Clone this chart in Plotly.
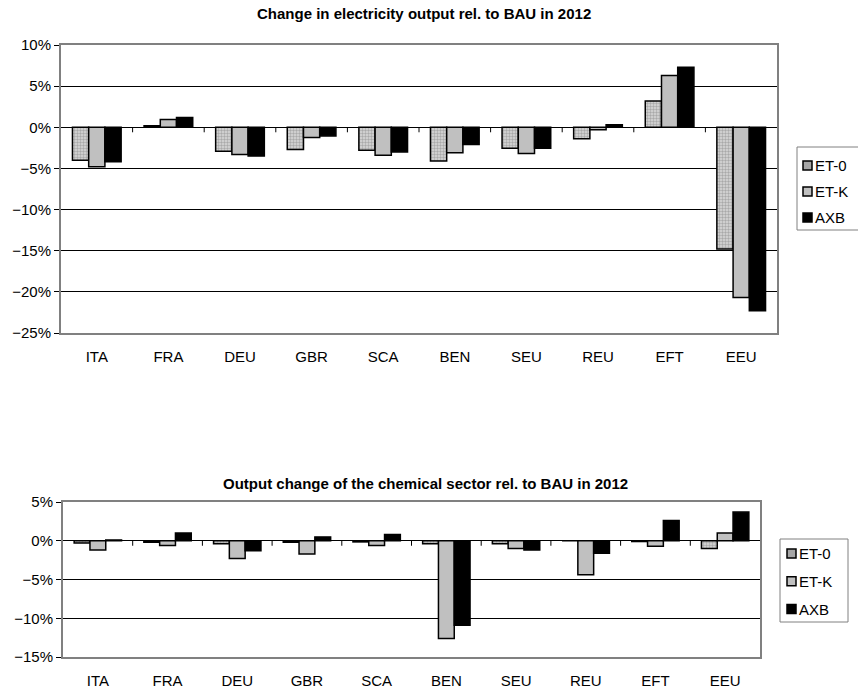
import plotly.graph_objects as go

categories = ["ITA", "FRA", "DEU", "GBR", "SCA", "BEN", "SEU", "REU", "EFT", "EEU"]
series_names = ["ET-0", "ET-K", "AXB"]

# Change in electricity output rel. to BAU in 2012 (%)
elec_et0 = [-4.0, 0.2, -2.9, -2.7, -2.8, -4.1, -2.55, -1.4, 3.2, -14.8]
elec_etk = [-4.8, 0.95, -3.3, -1.25, -3.4, -3.1, -3.2, -0.3, 6.3, -20.7]
elec_axb = [-4.2, 1.2, -3.5, -1.05, -3.0, -2.1, -2.55, 0.3, 7.3, -22.3]

# Output change of the chemical sector rel. to BAU in 2012 (%)
chem_et0 = [-0.3, -0.2, -0.4, -0.2, -0.15, -0.4, -0.4, 0.0, -0.1, -1.0]
chem_etk = [-1.2, -0.6, -2.3, -1.7, -0.6, -12.6, -1.0, -4.4, -0.7, 1.0]
chem_axb = [0.1, 1.0, -1.3, 0.5, 0.8, -10.9, -1.2, -1.6, 2.6, 3.7]

title_top = "Change in electricity output rel. to BAU in 2012"
title_bottom = "Output change of the chemical sector rel. to BAU in 2012"

W, H = 858, 691
FONT = "Liberation Sans, Arial, sans-serif"


def px_x(v):
    return v / W


def px_y(v):
    return 1 - v / H


styles = [
    dict(color="#d9d9d9", pattern=dict(shape=".", fgcolor="#7a7a7a", bgcolor="#d9d9d9",
                                        size=3, solidity=0.5)),
    dict(color="#c0c0c0"),
    dict(color="#000000"),
]
legend_swatch_colors = ["#a6a6a6", "#c0c0c0", "#000000"]

fig = go.Figure()

for (vals_list, xa, ya) in [
    ([elec_et0, elec_etk, elec_axb], "x", "y"),
    ([chem_et0, chem_etk, chem_axb], "x2", "y2"),
]:
    for i, (name, vals) in enumerate(zip(series_names, vals_list)):
        fig.add_trace(go.Bar(
            x=categories, y=vals, name=name, xaxis=xa, yaxis=ya,
            showlegend=False,
            marker=dict(line=dict(color="#000000", width=1.5), **styles[i]),
            hoverinfo="x+y+name",
        ))

axis_common = dict(showline=True, linecolor="#808080", linewidth=2, mirror=True,
                   automargin=False)

fig.update_layout(
    width=W, height=H,
    margin=dict(l=0, r=0, t=0, b=0),
    paper_bgcolor="white", plot_bgcolor="white",
    font=dict(family=FONT, size=15, color="#000000"),
    barmode="group", bargap=0.32, bargroupgap=0.0,
    showlegend=False,
    xaxis=dict(domain=[px_x(61), px_x(777)], anchor="y", type="category",
               showgrid=False, ticks="", ticklabelstandoff=9,
               tickfont=dict(size=15), **axis_common),
    yaxis=dict(domain=[px_y(333), px_y(45)], anchor="x", range=[-25, 10], dtick=5,
               ticksuffix="%", showgrid=True, gridcolor="#000000", gridwidth=1,
               zeroline=True, zerolinecolor="#000000", zerolinewidth=1,
               ticks="outside", ticklen=5, tickcolor="#000000",
               tickfont=dict(size=15), **axis_common),
    xaxis2=dict(domain=[px_x(63), px_x(760)], anchor="y2", type="category",
                showgrid=False, ticks="", ticklabelstandoff=9,
                tickfont=dict(size=15), **axis_common),
    yaxis2=dict(domain=[px_y(657), px_y(502)], anchor="x2", range=[-15, 5], dtick=5,
                ticksuffix="%", showgrid=True, gridcolor="#000000", gridwidth=1,
                zeroline=True, zerolinecolor="#000000", zerolinewidth=1,
                ticks="outside", ticklen=5, tickcolor="#000000",
                tickfont=dict(size=15), **axis_common),
)

annotations = [
    dict(text="<b>" + title_top + "</b>", x=px_x(424), y=px_y(14), xref="paper",
         yref="paper", showarrow=False, xanchor="center", yanchor="middle",
         font=dict(size=15)),
    dict(text="<b>" + title_bottom + "</b>", x=px_x(425), y=px_y(483), xref="paper",
         yref="paper", showarrow=False, xanchor="center", yanchor="middle",
         font=dict(size=15)),
]

shapes = []
# small category-boundary tick marks on the zero line
for xa, ya in [("x", "y"), ("x2", "y2")]:
    for i in range(len(categories) - 1):
        shapes.append(dict(type="line", xref=xa, yref=ya, x0=i + 0.5, x1=i + 0.5,
                           ysizemode="pixel", yanchor=0, y0=0, y1=-5,
                           line=dict(color="#000000", width=1)))

# legends (box, swatch, label), positioned in pixels
legend_specs = [
    # box left, box top, box right, box bottom, swatch left, first item centre, step
    (797, 147, 862, 230, 803, 165.5, 26),
    (780, 539, 848, 622, 787, 553.5, 27.8),
]
for (bl, bt, br, bb, sl, c0, step) in legend_specs:
    shapes.append(dict(type="rect", xref="paper", yref="paper",
                       x0=px_x(bl), x1=px_x(br), y0=px_y(bb), y1=px_y(bt),
                       line=dict(color="#808080", width=1), fillcolor="white"))
    for i, name in enumerate(series_names):
        cy = c0 + i * step
        shapes.append(dict(type="rect", xref="paper", yref="paper",
                           x0=px_x(sl), x1=px_x(sl + 9), y0=px_y(cy + 4.5),
                           y1=px_y(cy - 4.5),
                           line=dict(color="#000000", width=1.5),
                           fillcolor=legend_swatch_colors[i]))
        annotations.append(dict(text=name, x=px_x(sl + 10), y=px_y(cy), xref="paper",
                                yref="paper", showarrow=False, xanchor="left",
                                yanchor="middle", font=dict(size=15)))

fig.update_layout(shapes=shapes, annotations=annotations)

fig.write_html("out.html",
               config={"displayModeBar": False},
               post_script="document.body.style.margin='0';"
                           "document.documentElement.style.overflow='hidden';")
